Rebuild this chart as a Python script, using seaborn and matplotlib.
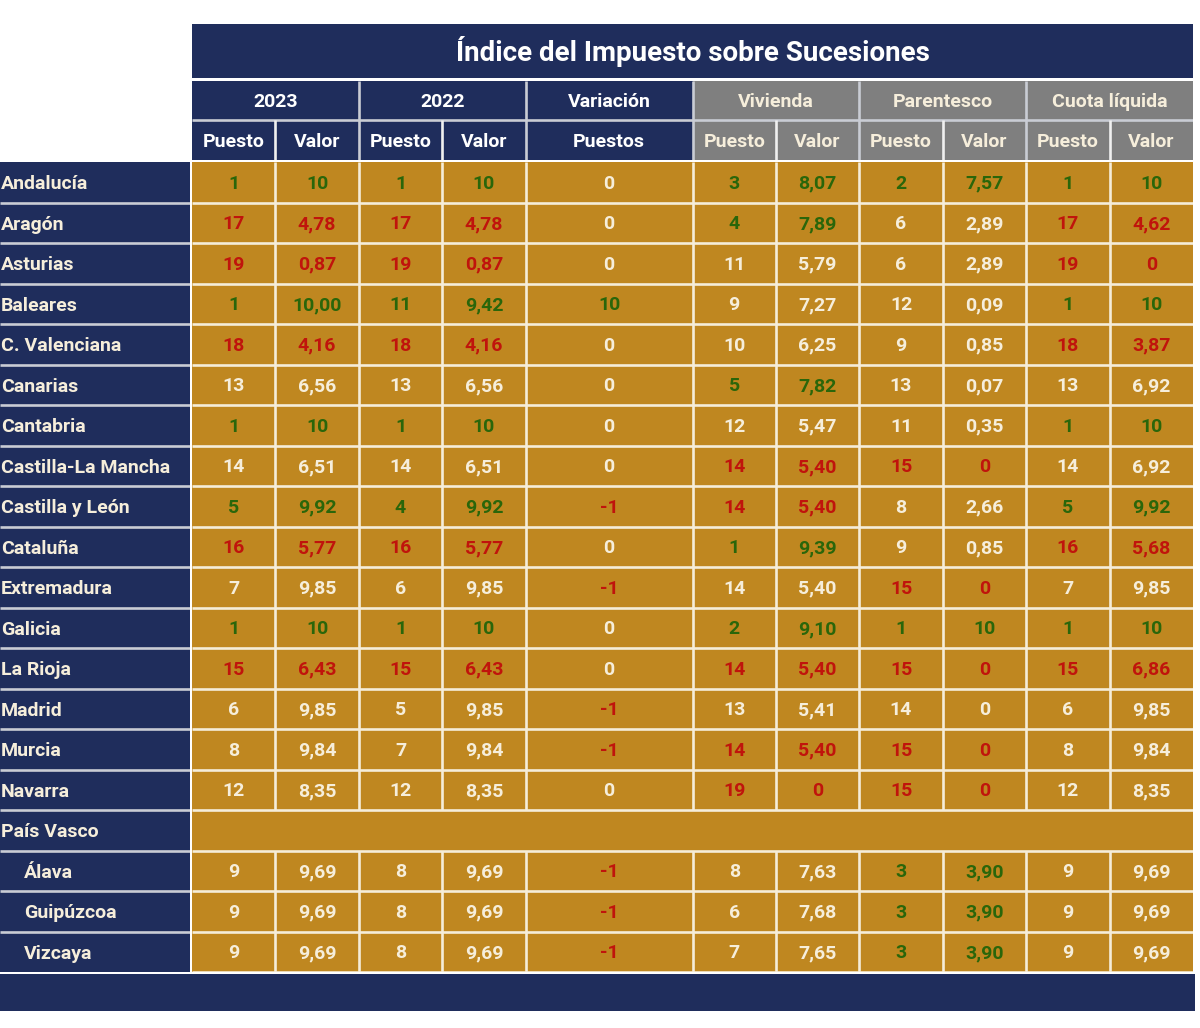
"""Indice del Impuesto sobre Sucesiones - tabla con heatmaps de seaborn"""
import matplotlib
matplotlib.use("Agg")
import matplotlib.pyplot as plt
from matplotlib.colors import ListedColormap
import numpy as np
import seaborn as sns

W, H = 1200, 1028
NAVY = "#1f2d5c"
GOLD = "#bf8720"
GRAY = "#7f7f7f"
CREAM = "#f5edd9"
LINE = "#c9ccd4"
TONES = {1: "#2a660a", -1: "#c0140c", 0: "#f6eedb"}
LW = 1.9

TITLE = "Índice del Impuesto sobre Sucesiones"
GROUPS = ["2023", "2022", "Variación", "Vivienda", "Parentesco", "Cuota líquida"]
SUBHEADS = ["Puesto", "Valor", "Puesto", "Valor", "Puestos", "Puesto", "Valor", "Puesto", "Valor", "Puesto", "Valor"]

regions = ["Andalucía", "Aragón", "Asturias", "Baleares", "C. Valenciana", "Canarias", "Cantabria",
           "Castilla-La Mancha", "Castilla y León", "Cataluña", "Extremadura", "Galicia", "La Rioja",
           "Madrid", "Murcia", "Navarra", "País Vasco", "Álava", "Guipúzcoa", "Vizcaya"]
sub_regions = ["Álava", "Guipúzcoa", "Vizcaya"]

puesto_2023 = ["1", "17", "19", "1", "18", "13", "1", "14", "5", "16", "7", "1", "15", "6", "8", "12", "", "9", "9", "9"]
valor_2023 = ["10", "4,78", "0,87", "10,00", "4,16", "6,56", "10", "6,51", "9,92", "5,77", "9,85", "10", "6,43",
              "9,85", "9,84", "8,35", "", "9,69", "9,69", "9,69"]
puesto_2022 = ["1", "17", "19", "11", "18", "13", "1", "14", "4", "16", "6", "1", "15", "5", "7", "12", "", "8", "8", "8"]
valor_2022 = ["10", "4,78", "0,87", "9,42", "4,16", "6,56", "10", "6,51", "9,92", "5,77", "9,85", "10", "6,43",
              "9,85", "9,84", "8,35", "", "9,69", "9,69", "9,69"]
variacion = ["0", "0", "0", "10", "0", "0", "0", "0", "-1", "0", "-1", "0", "0", "-1", "-1", "0", "", "-1", "-1", "-1"]
puesto_viv = ["3", "4", "11", "9", "10", "5", "12", "14", "14", "1", "14", "2", "14", "13", "14", "19", "", "8", "6", "7"]
valor_viv = ["8,07", "7,89", "5,79", "7,27", "6,25", "7,82", "5,47", "5,40", "5,40", "9,39", "5,40", "9,10", "5,40",
             "5,41", "5,40", "0", "", "7,63", "7,68", "7,65"]
puesto_par = ["2", "6", "6", "12", "9", "13", "11", "15", "8", "9", "15", "1", "15", "14", "15", "15", "", "3", "3", "3"]
valor_par = ["7,57", "2,89", "2,89", "0,09", "0,85", "0,07", "0,35", "0", "2,66", "0,85", "0", "10", "0", "0", "0", "0",
             "", "3,90", "3,90", "3,90"]
puesto_cuota = ["1", "17", "19", "1", "18", "13", "1", "14", "5", "16", "7", "1", "15", "6", "8", "12", "", "9", "9", "9"]
valor_cuota = ["10", "4,62", "0", "10", "3,87", "6,92", "10", "6,92", "9,92", "5,68", "9,85", "10", "6,86", "9,85",
               "9,84", "8,35", "", "9,69", "9,69", "9,69"]

# 1 = verde, -1 = rojo, 0 = neutro, una lista por bloque
tono_2023 = [1, -1, -1, 1, -1, 0, 1, 0, 1, -1, 0, 1, -1, 0, 0, 0, 0, 0, 0, 0]
tono_2022 = [1, -1, -1, 1, -1, 0, 1, 0, 1, -1, 0, 1, -1, 0, 0, 0, 0, 0, 0, 0]
tono_var = [0, 0, 0, 1, 0, 0, 0, 0, -1, 0, -1, 0, 0, -1, -1, 0, 0, -1, -1, -1]
tono_viv = [1, 1, 0, 0, 0, 1, 0, -1, -1, 1, 0, 1, -1, 0, -1, -1, 0, 0, 0, 0]
tono_par = [1, 0, 0, 0, 0, 0, 0, -1, 0, 0, -1, 1, -1, 0, -1, -1, 0, 1, 1, 1]
tono_cuota = [1, -1, -1, 1, -1, 0, 1, 0, 1, -1, 0, 1, -1, 0, 0, 0, 0, 0, 0, 0]

columns = [(puesto_2023, tono_2023, 0.5), (valor_2023, tono_2023, 1.5), (puesto_2022, tono_2022, 2.5),
           (valor_2022, tono_2022, 3.5), (variacion, tono_var, 5.0), (puesto_viv, tono_viv, 6.5),
           (valor_viv, tono_viv, 7.5), (puesto_par, tono_par, 8.5), (valor_par, tono_par, 9.5),
           (puesto_cuota, tono_cuota, 10.5), (valor_cuota, tono_cuota, 11.5)]

plt.rcParams["font.family"] = ["Roboto", "DejaVu Sans"]
plt.rcParams["font.weight"] = "bold"

fig = plt.figure(figsize=(W / 100, H / 100), dpi=100, facecolor="white")


def panel(x0, y0, x1, y1, codes, colors):
    """Heatmap de color plano colocado en coordenadas de pixel."""
    ax = fig.add_axes([x0 / W, 1 - y1 / H, (x1 - x0) / W, (y1 - y0) / H])
    sns.heatmap(codes, cmap=ListedColormap(colors), vmin=0, vmax=len(colors) - 1, cbar=False,
                xticklabels=False, yticklabels=False, ax=ax)
    ax.tick_params(length=0)
    return ax


# titulo
ax_title = panel(192, 24, 1193, 78, np.zeros((1, 1)), [NAVY, NAVY])
ax_title.text(0.5, 0.685, TITLE, color="white", fontsize=20, ha="center", va="baseline")

# cabeceras
head_codes = np.array([[0] * 6 + [1] * 6] * 2)
ax_head = panel(192, 81, 1193, 160, head_codes, [NAVY, GRAY])
ax_head.hlines(1.0, 0, 12, color=LINE, lw=LW)
ax_head.vlines([2, 4, 6, 8, 10], 0, 2, color=LINE, lw=LW)
ax_head.vlines([1, 3, 7, 9, 11], 1, 2, color="#f0f0f0", lw=LW)
for g, name in enumerate(GROUPS):
    ax_head.text(2 * g + 1, 0.66, name, color=TONES[0] if g > 2 else "white", fontsize=14, ha="center", va="baseline")
for (_, _, xc), name in zip(columns, SUBHEADS):
    ax_head.text(xc, 1.68, name, color=TONES[0] if xc > 6 else "white", fontsize=14, ha="center", va="baseline")

# nombres de las comunidades
ax_names = panel(0, 162, 190, 972, np.zeros((len(regions), 1)), [NAVY, NAVY])
ax_names.hlines(range(1, len(regions)), 0, 1, color=LINE, lw=LW)
for r, name in enumerate(regions):
    x = 24 / 190 if name in sub_regions else 1 / 190
    ax_names.text(x, r + 0.67, name, color=TONES[0], fontsize=14, ha="left", va="baseline")

# cuerpo de la tabla
pv_row = regions.index("País Vasco")
ax_body = panel(192, 162, 1193, 972, np.zeros((len(regions), 12)), [GOLD, GOLD])
ax_body.hlines(range(1, len(regions) + 1), 0, 12, color=CREAM, lw=LW)
for xv in [1, 2, 3, 4, 6, 7, 8, 9, 10, 11]:
    ax_body.vlines(xv, 0, pv_row, color=CREAM, lw=LW)
    ax_body.vlines(xv, pv_row + 1, len(regions), color=CREAM, lw=LW)
for labels, tones, xc in columns:
    for r, label in enumerate(labels):
        if label:
            ax_body.text(xc, r + 0.66, label, color=TONES[tones[r]], fontsize=14, ha="center", va="baseline")

# banda inferior
panel(0, 974, 1195, 1011, np.zeros((1, 1)), [NAVY, NAVY])

fig.savefig("out.png", dpi=100, facecolor="white")
